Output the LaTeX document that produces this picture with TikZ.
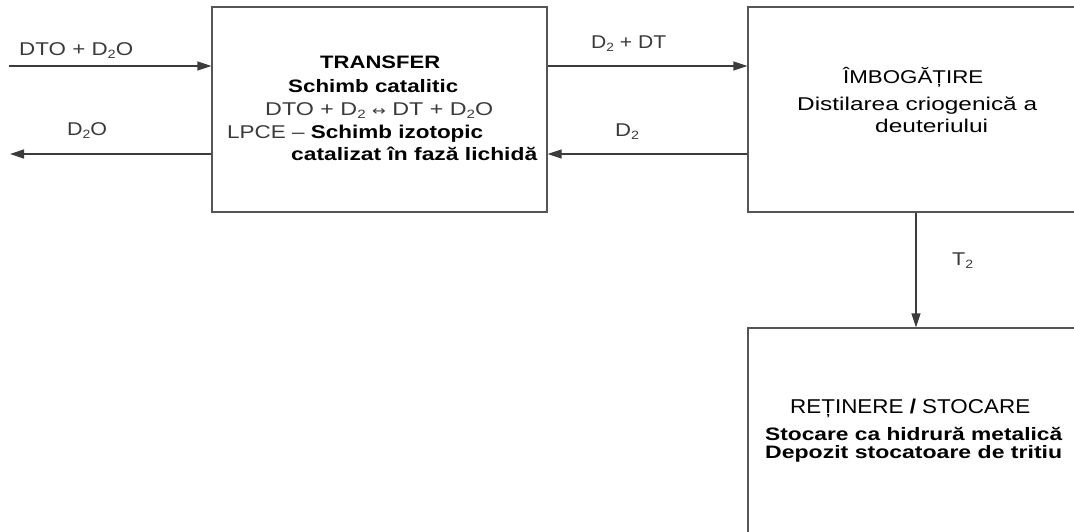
\documentclass[tikz,border=0pt]{standalone}
\usepackage{fontspec}
\usepackage{graphicx}
\setmainfont{Liberation Sans}
\newfontfamily\dejavu{DejaVu Sans}
\usetikzlibrary{arrows.meta}
\definecolor{txtgray}{HTML}{3A3A3A}
\definecolor{linegray}{HTML}{3C3C3C}
\definecolor{boxgray}{HTML}{555555}
\newcommand{\subx}[1]{\raisebox{-0.35ex}{\fontsize{12}{12}\selectfont #1}}
\newcommand{\fw}[2]{\resizebox{#1pt}{\height}{#2}}
\begin{document}
\begin{tikzpicture}[x=1pt,y=-1pt,
  box/.style={draw=boxgray, line width=1.3pt, fill=none, inner sep=0},
  flow/.style={draw=linegray, line width=1.3pt, -{Triangle[length=14pt,width=9pt]}},
  lbl/.style={anchor=base west, inner sep=0, text=txtgray, font=\fontsize{18.5}{20}\selectfont},
  txt/.style={anchor=base west, inner sep=0, text=black, font=\fontsize{18.5}{20}\selectfont},
  btxt/.style={anchor=base west, inner sep=0, text=black, font=\fontsize{18}{20}\selectfont\bfseries}]
\useasboundingbox (0,0) rectangle (1074,531);
\clip (0,0) rectangle (1074,531);
% boxes
\node[box, minimum width=335pt, minimum height=205pt] (b1) at (379.5,109.5) {};
\node[box, minimum width=352pt, minimum height=205pt] (b2) at (924,109.5) {};
\node[box, minimum width=352pt, minimum height=232pt] (b3) at (924,444) {};
% coordinates
\coordinate (inL) at (9,66);
\coordinate (outL) at (10,154);
\coordinate (tx) at (916,0);
% connectors
\draw[flow] (inL) -- (b1.west |- inL);
\draw[flow] (b1.west |- outL) -- (outL);
\draw[flow] (b1.east |- inL) -- (b2.west |- inL);
\draw[flow] (b2.west |- outL) -- (b1.east |- outL);
\draw[flow] (b2.south -| tx) -- (b3.north -| tx);
% connector labels
\node[lbl] (l1) at (19,55) {\fw{114}{DTO + D\subx{2}O}};
\node[lbl] (l2) at (67,135) {\fw{40}{D\subx{2}O}};
\node[lbl] (l3) at (591,48) {\fw{75}{D\subx{2} + DT}};
\node[lbl] (l4) at (615,136) {\fw{24}{D\subx{2}}};
\node[lbl] (l5) at (952,265) {\fw{21}{T\subx{2}}};
% box 1 text
\node[btxt] (t11) at (320,68) {\fw{120}{TRANSFER}};
\node[btxt] (t12) at (288,92) {\fw{170}{Schimb catalitic}};
\node[lbl] (t13) at (265,115) {\fw{228}{DTO + D\subx{2} {\dejavu\fontsize{13}{13}\selectfont ↔} DT + D\subx{2}O}};
\node[lbl] (t14) at (227,138) {\fw{256}{LPCE – \textcolor{black}{\bfseries Schimb izotopic}}};
\node[btxt] (t15) at (291,160) {\fw{246}{catalizat în fază lichidă}};
% box 2 text
\node[txt] (t21) at (843,83) {\fw{140}{ÎMBOGĂȚIRE}};
\node[txt] (t22) at (797,110) {\fw{240}{Distilarea criogenică a}};
\node[txt] (t23) at (875,132) {\fw{113}{deuteriului}};
% box 3 text
\node[txt, font=\fontsize{20}{22}\selectfont] (t31) at (790,413) {\fw{240}{REȚINERE {\bfseries /} STOCARE}};
\node[btxt] (t32) at (765,440) {\fw{297}{Stocare ca hidrură metalică}};
\node[btxt] (t33) at (765,458) {\fw{297}{Depozit stocatoare de tritiu}};
\end{tikzpicture}
\end{document}
